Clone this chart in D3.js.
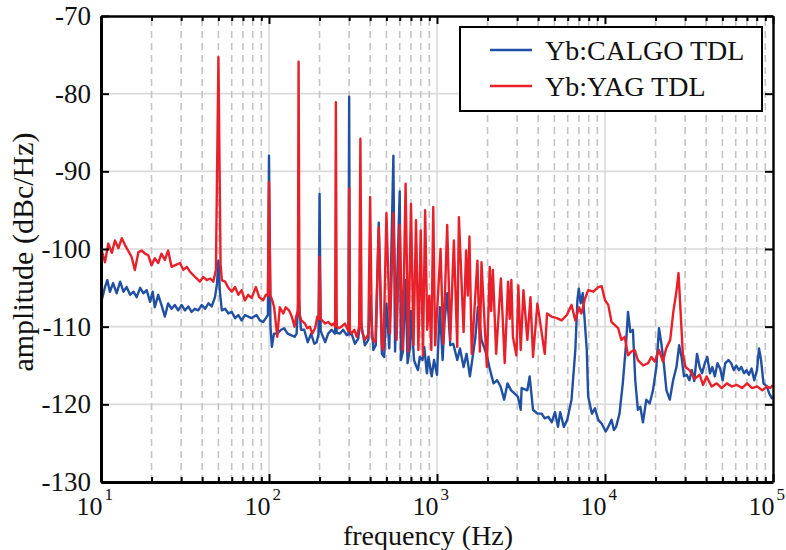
<!DOCTYPE html>
<html>
<head>
<meta charset="utf-8">
<script src="https://cdn.jsdelivr.net/npm/d3@7"></script>
<style>
  body { margin: 0; background: #fff; }
  text { font-family: "Liberation Serif", "Times New Roman", serif; fill: #111; }
</style>
</head>
<body>
<script>
// noise spectra, [frequency Hz, dBc/Hz]
const yTicks = [-130, -120, -110, -100, -90, -80, -70];
const xDecades = [10, 100, 1000, 10000, 100000];
const xExponents = ["1", "2", "3", "4", "5"];
const seriesNames = ["Yb:CALGO TDL", "Yb:YAG TDL"];

const calgo = [
  [10.1,-106.6],[10.56,-104.9],[10.9,-104],[11.3,-105.5],[11.8,-104.4],[12.4,-105.7],[13.0,-104.2],[13.6,-105.5],
  [14.2,-104.9],[14.9,-105.9],[15.6,-105.5],[16.3,-106.2],[17.1,-105],[17.9,-105.7],[18.7,-105.3],[19.6,-106.8],
  [20.3,-105.5],[20.9,-107.5],[21.9,-105.9],[22.9,-107.2],[24.0,-108.7],[25.1,-107],[26.3,-107.7],[27.5,-107.2],
  [28.8,-107.9],[30.2,-107.2],[31.6,-107.9],[33.1,-107.4],[34.6,-108.1],[36.2,-107.7],[37.9,-107.9],[39.8,-107.2],
  [41.6,-107.7],[43.6,-107],[45.6,-107.4],[47.7,-106.2],[49,-104.5],[50,-101.5],[51,-105.5],[52.4,-107.9],
  [54.8,-107.7],[57.3,-108.3],[60,-108.1],[62.8,-108.9],[65.7,-108.5],[68.7,-109.2],[71.9,-108.5],[75.2,-108.7],
  [78.7,-108.9],[84.3,-108.5],[88.2,-109.2],[92.3,-109.4],[95.8,-108.9],[98.5,-108.5],[100,-88],[102,-110],
  [104,-112.6],[107,-110.9],[112,-110.9],[118,-110.4],[123,-110.2],[129,-110.9],[135,-111.1],[142,-111.3],
  [146,-110.9],[150,-106],[155,-110.4],[162,-110.4],[170,-112],[178,-110.9],[186,-112.2],[192,-112],[197,-111],
  [200,-92.9],[203,-110.5],[206,-110.9],[216,-112],[225,-110.9],[236,-110.4],[247,-110.9],[250,-108.5],[253,-110.8],
  [264,-110.9],[276,-110.4],[290,-111.1],[297,-111],[300,-80.4],[303,-111],[310,-110.9],[325,-112.2],[340,-111.5],
  [350,-109],[372,-112.4],[390,-111.7],[400,-106],[418,-113],[432,-112.4],[450,-96.6],[470,-113.5],[485,-113.9],
  [500,-107],[520,-112.8],[550,-88],[563,-113.2],[600,-92.6],[610,-114.3],[627,-113.2],[650,-104],[668,-114.7],
  [690,-112.8],[700,-108],[730,-114.3],[750,-115],[770,-115.6],[790,-113.9],[820,-114.3],[840,-112.6],[870,-116],
  [890,-113.9],[930,-116.4],[960,-114.3],[1000,-116.2],[1040,-107.5],[1080,-114.3],[1110,-109.2],[1150,-105.7],
  [1200,-112.4],[1250,-112.2],[1320,-114.3],[1370,-112.8],[1440,-115.2],[1500,-113.5],[1570,-116.4],[1690,-111.5],
  [1750,-107.5],[1840,-111.7],[1980,-113.7],[2070,-115.6],[2170,-117.3],[2280,-116.9],[2390,-117.7],[2510,-119.4],
  [2630,-117.3],[2760,-118.2],[2890,-118.6],[3030,-119],[3150,-120.7],[3190,-117.9],[3450,-118.2],[3560,-116.4],
  [3730,-120.7],[3960,-121.2],[4200,-121.2],[4380,-121.8],[4590,-121.6],[4820,-122.3],[5040,-121],[5250,-122.9],
  [5410,-121],[5690,-122.9],[5960,-122],[6320,-119.4],[6660,-113],[6850,-106.6],[6980,-105.1],[7170,-107],
  [7370,-105.7],[7790,-113],[7940,-119],[8360,-121.2],[8710,-120.5],[9120,-122],[9560,-122.5],[10100,-123.5],
  [10460,-122.9],[10940,-122],[11300,-123.3],[11640,-122.9],[12200,-121.2],[12760,-117.3],[13300,-112.6],[13710,-108.1],
  [14150,-110.7],[14660,-110.4],[15140,-116.9],[15690,-120.7],[16220,-120.3],[16820,-122.3],[17620,-119.4],[18440,-119.9],
  [19300,-118.2],[20210,-115.2],[20960,-110.2],[21660,-112.2],[22370,-114.7],[23220,-118.2],[24300,-119.4],[25440,-116.9],
  [26630,-115.2],[27630,-112.4],[28560,-113.9],[29520,-116.4],[30640,-116.2],[31800,-116.9],[32880,-115.6],[33980,-117],
  [35290,-113.5],[36600,-115.2],[37850,-116],[39290,-114.7],[40620,-113.9],[42130,-116],[43550,-115.2],[45020,-116.4],
  [46730,-114.7],[48480,-115.4],[50120,-116.9],[52000,-114.7],[54290,-114.3],[56330,-114.7],[58440,-115.6],[60410,-115],
  [62690,-115.6],[64800,-115.2],[67240,-116],[69520,-115.6],[71870,-116.2],[74570,-115.4],[77380,-116.9],[80280,-115.6],
  [82560,-112.8],[84900,-114.3],[87780,-117.3],[91920,-117.7],[94900,-118.6],[98400,-119.2],[100000,-119]
];

const yag = [
  [10.1,-100.2],[10.56,-101.7],[11.05,-99.3],[11.6,-100.5],[12.1,-98.9],[12.7,-99.9],[13.3,-98.6],[13.9,-99.5],
  [14.5,-100.2],[15.2,-101],[15.9,-102.7],[16.7,-100.4],[17.5,-100.2],[18.3,-100.6],[19.1,-100.8],[20.0,-102.1],
  [20.9,-101.2],[21.9,-101.8],[22.9,-100.6],[24.0,-101.4],[25.1,-100.2],[26.3,-102.3],[27.5,-102.1],[29.5,-101.8],
  [30.9,-102.7],[32.4,-102.3],[33.8,-102.9],[36.3,-103.6],[38.8,-104.2],[40.6,-103.6],[42.6,-104],[44.6,-103.8],
  [46.6,-104.2],[48.3,-102.7],[50,-75.3],[51.5,-102],[52.4,-104],[54.8,-104.2],[57.3,-105],[60,-105.5],
  [62.8,-104.9],[65.7,-105.9],[68.7,-105.3],[71.9,-106.6],[75.2,-105.9],[78.7,-106.3],[83.6,-104.9],[87.4,-106.2],
  [92.3,-106.6],[95.8,-105.9],[98.5,-106],[100,-91.4],[102,-106],[104.5,-106.6],[107.3,-107.5],[112,-111.3],
  [116,-107.5],[121.6,-108.3],[125.8,-107.5],[131.5,-107.9],[136.7,-108.7],[141.9,-110],[145,-108.7],[148.5,-108],
  [150,-75.9],[152,-108.5],[155.6,-109.2],[160,-109.4],[163.5,-109.6],[169,-110.2],[175,-110],[181,-110.9],
  [188,-110.2],[194,-108.7],[198,-109],[200,-101],[203,-109],[207,-109.2],[216,-109.6],[225,-109.4],[236,-109.8],
  [243,-109.6],[247.5,-110],[250,-81.1],[253,-110],[260,-110.2],[270,-110],[283,-109.6],[294,-110.4],[297.5,-110.5],
  [300,-92.2],[303,-110.5],[310,-110.9],[322,-110.4],[333,-111.3],[344,-110],[350,-85.8],[356,-110.5],[372,-111.7],
  [390,-111],[400,-93.3],[410,-111.5],[430,-112],[450,-97.2],[470,-112.5],[480,-113],[500,-95.4],[525,-110.9],
  [550,-95.4],[575,-111.7],[600,-96.9],[625,-113],[650,-91.6],[675,-113.2],[700,-94.2],[725,-112.4],[750,-96.3],
  [775,-113],[800,-97.6],[825,-113.7],[850,-95],[875,-110.4],[900,-106],[925,-113],[950,-94.6],[975,-112.4],
  [1000,-108.3],[1050,-100],[1090,-112.2],[1150,-96.9],[1200,-111.7],[1260,-98.9],[1320,-112.6],[1350,-95.9],
  [1440,-110.7],[1490,-100.2],[1525,-106],[1560,-98.4],[1610,-113.5],[1740,-101.5],[1800,-113.2],[1840,-101.7],
  [1980,-115.2],[2060,-102.3],[2100,-108],[2150,-102.7],[2250,-113.5],[2400,-103.8],[2530,-114.7],[2650,-104.2],
  [2710,-109],[2770,-104],[2830,-111.3],[2970,-113.7],[3050,-104.7],[3150,-113],[3270,-105.3],[3450,-111.7],
  [3600,-106.2],[3730,-113.9],[3960,-107],[4380,-113.5],[4520,-108.3],[4800,-108.7],[5170,-108.9],[5520,-109.2],
  [5930,-108.5],[6320,-107.2],[6660,-109.2],[7000,-107.5],[7240,-108.3],[7600,-106.4],[7950,-105.3],[8530,-105.5],
  [9120,-104.9],[9560,-104.8],[10000,-106.6],[10460,-107.2],[10940,-109.4],[11450,-109.8],[11980,-110.2],[12530,-111.7],
  [13110,-111.3],[13710,-113.7],[14340,-113.2],[15000,-113],[15690,-114.3],[16870,-115],[18050,-114.7],[18890,-113.9],
  [19760,-114.5],[20960,-113],[22110,-114.5],[23140,-112.8],[24440,-111.7],[25570,-107.9],[26530,-105.7],[27390,-103.1],
  [28150,-107.9],[29060,-113.5],[30140,-115.2],[31850,-115.6],[34190,-116.7],[36620,-116.2],[38350,-117.5],[40210,-116.4],
  [43120,-117.7],[46230,-117.3],[49550,-117.9],[53100,-117.3],[56920,-117.7],[61020,-117.5],[65400,-117.9],[70100,-117.3],
  [75130,-117.9],[80550,-117.7],[86330,-118.2],[92550,-117.7],[96400,-117.9],[100000,-117.5]
];

const colors = ["#2150a2", "#e8202a"];

const W = 786, H = 550;
const margin = {top: 16, right: 13, bottom: 68, left: 101};

const svg = d3.select("body").append("svg")
  .attr("width", W).attr("height", H);

const x = d3.scaleLog().domain([10, 1e5]).range([margin.left, W - margin.right]);
const y = d3.scaleLinear().domain([-130, -70]).range([H - margin.bottom, margin.top]);

// minor positions 2..9 of each decade
const minor = [];
xDecades.slice(0, -1).forEach(d => { for (let k = 2; k <= 9; k++) minor.push(d * k); });

// grid
svg.append("g").selectAll("line").data(yTicks.slice(1, -1)).join("line")
  .attr("x1", x.range()[0]).attr("x2", x.range()[1])
  .attr("y1", d => y(d)).attr("y2", d => y(d))
  .attr("stroke", "#dadada").attr("stroke-width", 1.6);
svg.append("g").selectAll("line").data(xDecades.slice(1, -1)).join("line")
  .attr("x1", d => x(d)).attr("x2", d => x(d))
  .attr("y1", y.range()[0]).attr("y2", y.range()[1])
  .attr("stroke", "#dadada").attr("stroke-width", 1.6);
svg.append("g").selectAll("line").data(minor).join("line")
  .attr("x1", d => x(d)).attr("x2", d => x(d))
  .attr("y1", y.range()[0]).attr("y2", y.range()[1])
  .attr("stroke", "#c4c4c4").attr("stroke-width", 1.6)
  .attr("stroke-dasharray", "7,5");

// curves
svg.append("clipPath").attr("id", "clip").append("rect")
  .attr("x", margin.left).attr("y", margin.top)
  .attr("width", W - margin.left - margin.right).attr("height", H - margin.top - margin.bottom);

const line = d3.line().x(d => x(d[0])).y(d => y(d[1]));
[calgo, yag].forEach((s, i) => {
  svg.append("path").datum(s)
    .attr("clip-path", "url(#clip)")
    .attr("fill", "none")
    .attr("stroke", colors[i])
    .attr("stroke-width", 2.4)
    .attr("stroke-linejoin", "round")
    .attr("d", line);
});

// axes, ticks pointing in
const styleAxis = (g, w) => {
  g.select(".domain").attr("stroke", "#000").attr("stroke-width", w);
  g.selectAll(".tick line").attr("stroke", "#000").attr("stroke-width", 2);
};

svg.append("g")
  .attr("transform", `translate(${margin.left},0)`)
  .call(d3.axisLeft(y).tickValues(yTicks).tickSize(-8).tickSizeOuter(0).tickPadding(10).tickFormat(d => String(d)))
  .call(g => styleAxis(g, 3))
  .call(g => g.selectAll("text").attr("font-size", 27).style("font-family", "Liberation Serif").attr("fill", "#111"));

svg.append("g")
  .attr("transform", `translate(${W - margin.right},0)`)
  .call(d3.axisRight(y).tickValues(yTicks).tickSize(-8).tickSizeOuter(0).tickFormat(""))
  .call(g => styleAxis(g, 2.4));

svg.append("g")
  .attr("transform", `translate(0,${margin.top})`)
  .call(d3.axisTop(x).tickValues(minor).tickSize(-5).tickSizeOuter(0).tickFormat(""))
  .call(g => styleAxis(g, 2.4));
svg.append("g")
  .attr("transform", `translate(0,${margin.top})`)
  .call(d3.axisTop(x).tickValues(xDecades).tickSize(-8).tickSizeOuter(0).tickFormat(""))
  .call(g => g.select(".domain").remove())
  .call(g => g.selectAll(".tick line").attr("stroke", "#000").attr("stroke-width", 2));

svg.append("g")
  .attr("transform", `translate(0,${H - margin.bottom})`)
  .call(d3.axisBottom(x).tickValues(minor).tickSize(-5).tickSizeOuter(0).tickFormat(""))
  .call(g => styleAxis(g, 3));
const xm = svg.append("g")
  .attr("transform", `translate(0,${H - margin.bottom})`)
  .call(d3.axisBottom(x).tickValues(xDecades).tickSize(-8).tickSizeOuter(0).tickFormat(""))
  .call(g => g.select(".domain").remove())
  .call(g => g.selectAll(".tick line").attr("stroke", "#000").attr("stroke-width", 2));

// 10^n labels, base ends just right of the tick
xm.selectAll(".tick").each(function(d, i) {
  const t = d3.select(this).append("text")
    .attr("x", -25).attr("y", 33).attr("fill", "#111").attr("font-size", 26)
    .attr("text-anchor", "start")
    .style("font-family", "Liberation Serif");
  t.append("tspan").text("10");
  t.append("tspan").attr("dx", 2).attr("dy", -15).attr("font-size", 17).text(xExponents[i]);
});

// axis titles
svg.append("text")
  .attr("x", 428).attr("y", 545)
  .attr("text-anchor", "middle").attr("font-size", 28)
  .text("frequency (Hz)");
svg.append("text")
  .attr("transform", `translate(33,252) rotate(-90)`)
  .attr("text-anchor", "middle").attr("font-size", 30)
  .text("amplitude (dBc/Hz)");

// legend
const lg = svg.append("g");
lg.append("rect").attr("x", 460).attr("y", 27).attr("width", 302).attr("height", 84)
  .attr("fill", "#fff").attr("stroke", "#000").attr("stroke-width", 2);
seriesNames.forEach((n, i) => {
  const yy = 50 + i * 36;
  lg.append("line").attr("x1", 490).attr("x2", 532).attr("y1", yy).attr("y2", yy)
    .attr("stroke", colors[i]).attr("stroke-width", 2.6);
  lg.append("text").attr("x", 545).attr("y", yy + 10).attr("font-size", 28).text(n);
});
</script>
</body>
</html>
